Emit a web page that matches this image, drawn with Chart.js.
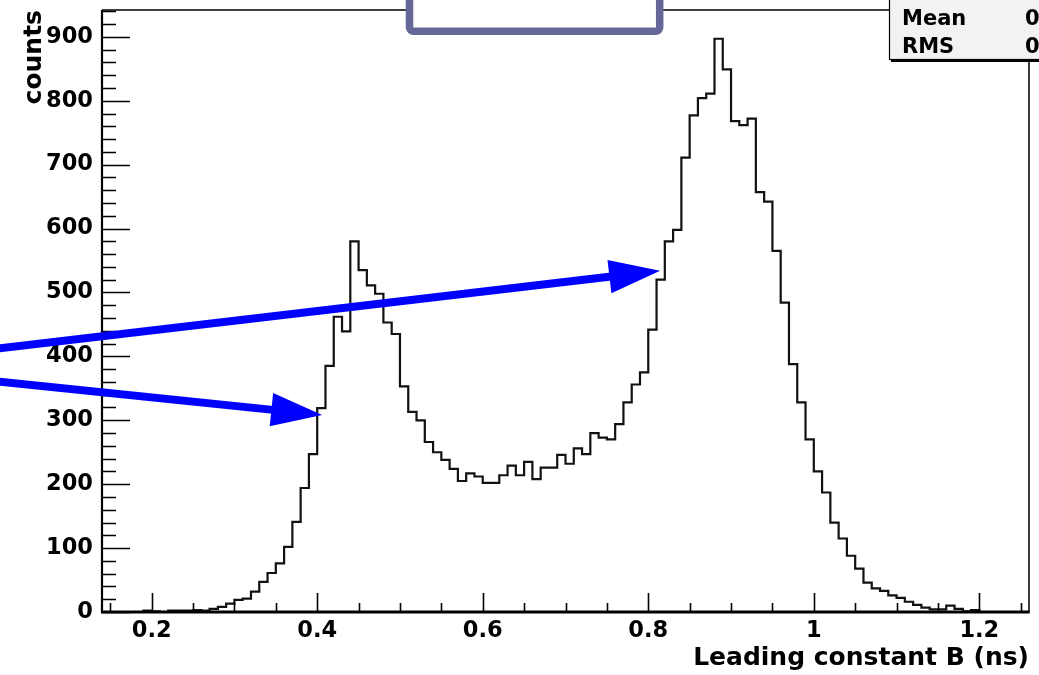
<!DOCTYPE html>
<html><head><meta charset="utf-8">
<script src="https://cdn.jsdelivr.net/npm/chart.js@4/dist/chart.umd.min.js"></script>
<style>html,body{margin:0;padding:0;background:#fff;overflow:hidden}#wrap{width:1039px;height:675px;position:relative}</style>
</head><body><div id="wrap"><canvas id="c" width="1039" height="675"></canvas></div>
<script>
// ---- data ----
const binStart = 0.14;      // low edge of first bin
const binWidth = 0.01;      // bin width
const counts = [
  0, 0, 0, 0, 0, 2, 1, 0, 2, 2,          // 0.14 - 0.23
  2, 3, 2, 5, 8, 13, 19, 21, 32, 47,     // 0.24 - 0.33
  61, 76, 102, 141, 194, 247, 319, 385, 462, 439, // 0.34 - 0.43
  580, 535, 511, 498, 453, 435, 353, 313, 300, 266, // 0.44 - 0.53
  250, 238, 224, 205, 217, 212, 202, 202, 214, 229, // 0.54 - 0.63
  214, 235, 208, 226, 226, 246, 232, 256, 247, 280, // 0.64 - 0.73
  273, 270, 294, 328, 356, 375, 442, 520, 580, 598, // 0.74 - 0.83
  711, 777, 804, 811, 897, 849, 768, 762, 772, 657, // 0.84 - 0.93
  642, 565, 484, 388, 328, 270, 220, 187, 140, 115, // 0.94 - 1.03
  88, 68, 46, 37, 33, 26, 22, 16, 11, 7,           // 1.04 - 1.13
  4, 4, 10, 5, 1, 3, 0, 0, 0, 0,                    // 1.14 - 1.23
  0, 0                                              // 1.24 - 1.25
];
const xTickLabels = ['0.2', '0.4', '0.6', '0.8', '1', '1.2'];
const yTickLabels = ['0', '100', '200', '300', '400', '500', '600', '700', '800', '900'];
const xTitle = 'Leading constant B (ns)';
const yTitle = 'counts';
const statsNames = ['Mean', 'RMS'];
const statsValues = ['0', '0'];
// annotation arrows, in data coordinates [x, y]
const arrowTails = [[-0.01, 408.6], [-0.01, 364.0]];
const arrowTips  = [[0.8143, 534.1], [0.406, 308.3]];

const xMin = binStart, xMax = +(binStart + counts.length * binWidth).toFixed(2);
const yMax = 942;

const points = counts.map((c, i) => ({ x: +(binStart + i * binWidth).toFixed(2), y: c }));
points.push({ x: xMax, y: counts[counts.length - 1] });

const FONT = 'DejaVu Sans';

const decor = {
  id: 'decor',
  afterDatasetsDraw(chart) {
    const ctx = chart.ctx, a = chart.chartArea;
    const xs = chart.scales.x, ys = chart.scales.y;
    ctx.save();
    ctx.strokeStyle = '#000';
    ctx.lineCap = 'butt';
    // frame
    ctx.lineWidth = 1.5;
    ctx.beginPath();
    ctx.moveTo(a.left, a.top); ctx.lineTo(a.right, a.top);
    ctx.moveTo(a.right, a.top); ctx.lineTo(a.right, a.bottom);
    ctx.stroke();
    ctx.lineWidth = 2.2;
    ctx.beginPath(); ctx.moveTo(a.left, a.top); ctx.lineTo(a.left, a.bottom + 1); ctx.stroke();
    ctx.lineWidth = 3;
    ctx.beginPath(); ctx.moveTo(a.left - 1, a.bottom); ctx.lineTo(a.right + 0.7, a.bottom); ctx.stroke();
    // y ticks (inward)
    ctx.lineWidth = 1.6;
    ctx.beginPath();
    for (let v = 0; v <= yMax; v += 20) {
      const p = Math.round(ys.getPixelForValue(v)) + 0.5;
      const len = (v % 100 === 0) ? 28 : 14;
      ctx.moveTo(a.left, p); ctx.lineTo(a.left + len, p);
    }
    ctx.stroke();
    // x ticks (inward)
    ctx.beginPath();
    for (let k = 3; k <= 25; k++) {
      const p = Math.round(xs.getPixelForValue(k * 0.05)) + 0.5;
      const len = (k % 4 === 0) ? 19 : 9;
      ctx.moveTo(p, a.bottom); ctx.lineTo(p, a.bottom - len);
    }
    ctx.stroke();

    // stats box (clipped at the canvas edge)
    ctx.fillStyle = '#000';
    ctx.fillRect(891, -5, 160, 67);
    ctx.fillStyle = '#f2f2f2';
    ctx.fillRect(889.5, -5, 160, 64.5);
    ctx.lineWidth = 1.2;
    ctx.strokeRect(889.5, -5, 160, 64.5);
    ctx.fillStyle = '#000';
    ctx.font = 'bold 21px "' + FONT + '"';
    ctx.textBaseline = 'alphabetic';
    ctx.textAlign = 'left';
    ctx.fillText(statsNames[0], 902, 25);
    ctx.fillText(statsNames[1], 902, 53);
    ctx.fillText(statsValues[0], 1025, 25);
    ctx.fillText(statsValues[1], 1025, 53);

    // title box
    ctx.fillStyle = '#fff';
    ctx.strokeStyle = '#666699';
    ctx.lineWidth = 7.5;
    ctx.beginPath();
    ctx.roundRect(409.5, -20, 250.2, 51.3, 4);
    ctx.fill(); ctx.stroke();

    // arrows
    ctx.strokeStyle = '#0000ff';
    ctx.fillStyle = '#0000ff';
    for (let i = 0; i < arrowTails.length; i++) {
      const x0 = xs.getPixelForValue(arrowTails[i][0]), y0 = ys.getPixelForValue(arrowTails[i][1]);
      const x1 = xs.getPixelForValue(arrowTips[i][0]), y1 = ys.getPixelForValue(arrowTips[i][1]);
      const L = Math.hypot(x1 - x0, y1 - y0), ux = (x1 - x0) / L, uy = (y1 - y0) / L;
      const hl = 51, hw = 16.7;
      const bx = x1 - ux * hl, by = y1 - uy * hl;
      ctx.lineWidth = 8;
      ctx.beginPath(); ctx.moveTo(x0, y0); ctx.lineTo(bx + ux * 4, by + uy * 4); ctx.stroke();
      ctx.beginPath();
      ctx.moveTo(x1, y1);
      ctx.lineTo(bx - uy * hw, by + ux * hw);
      ctx.lineTo(bx + uy * hw, by - ux * hw);
      ctx.closePath(); ctx.fill();
    }
    ctx.restore();
  }
};

new Chart(document.getElementById('c'), {
  type: 'line',
  data: {
    datasets: [{
      data: points,
      stepped: true,
      borderColor: '#111',
      borderWidth: 2.2,
      fill: false,
      pointRadius: 0,
      tension: 0
    }]
  },
  options: {
    responsive: false,
    animation: false,
    devicePixelRatio: 1,
    layout: { padding: { top: 10, right: 10, left: 0, bottom: 0 } },
    plugins: { legend: { display: false }, tooltip: { enabled: false } },
    scales: {
      x: {
        type: 'linear', min: xMin, max: xMax,
        afterFit(s) { s.height = 63; s.paddingLeft = 0; s.paddingRight = 0; },
        grid: { display: false, drawTicks: false },
        border: { display: false },
        ticks: {
          stepSize: 0.2, includeBounds: false, autoSkip: false, maxRotation: 0, minRotation: 0,
          color: '#000', padding: 6,
          font: { family: FONT, weight: 'bold', size: 22.5 },
          callback: (v) => xTickLabels[Math.round(v / 0.2) - 1]
        },
        title: {
          display: true, text: xTitle, align: 'end', color: '#000',
          font: { family: FONT, weight: 'bold', size: 25 },
          padding: { top: 0, bottom: 2 }
        }
      },
      y: {
        min: 0, max: yMax,
        afterFit(s) { s.width = 102; s.paddingTop = 0; s.paddingBottom = 0; },
        grid: { display: false, drawTicks: false },
        border: { display: false },
        ticks: {
          stepSize: 100, includeBounds: false, color: '#000', padding: 9,
          font: { family: FONT, weight: 'bold', size: 22.5 },
          callback: (v) => yTickLabels[Math.round(v / 100)]
        },
        title: {
          display: true, text: yTitle, align: 'end', color: '#000',
          font: { family: FONT, weight: 'bold', size: 25 },
          padding: { top: 19, bottom: 0 }
        }
      }
    }
  },
  plugins: [decor]
});
</script>
</body></html>
